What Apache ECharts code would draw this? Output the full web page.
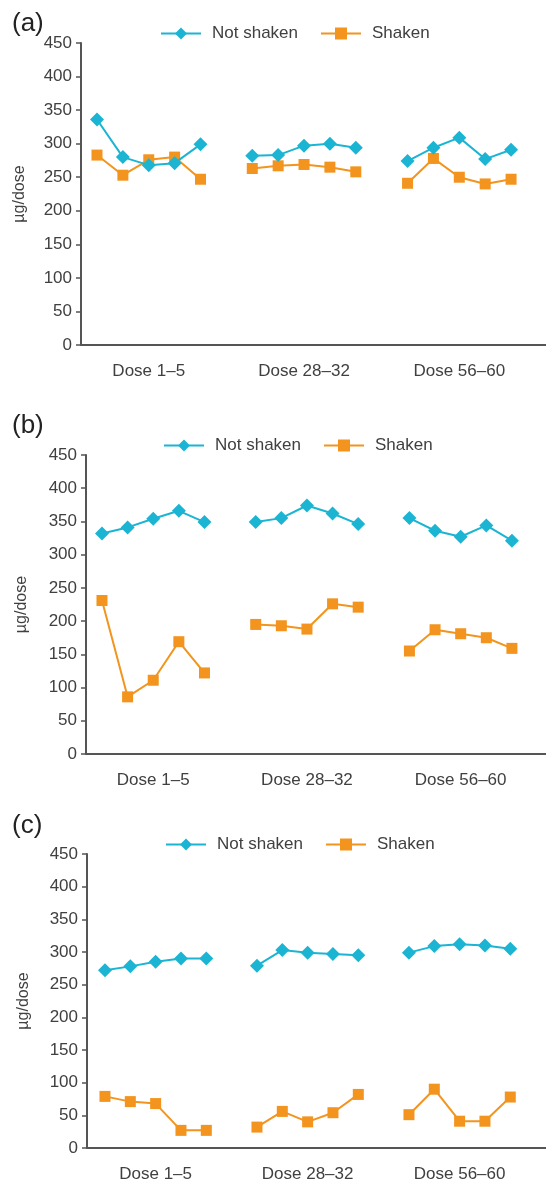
<!DOCTYPE html>
<html>
<head>
<meta charset="utf-8">
<script src="https://cdn.jsdelivr.net/npm/echarts@6/dist/echarts.min.js"></script>
<style>
html,body{margin:0;padding:0;background:#fff;}
#chart{width:546px;height:1183px;}
</style>
</head>
<body>
<div id="chart"></div>
<script>
const groups = ['Dose 1\u20135', 'Dose 28\u201332', 'Dose 56\u201360'];
const yTicks = [0, 50, 100, 150, 200, 250, 300, 350, 400, 450];
const panelLabels = ['(a)', '(b)', '(c)'];
const seriesNames = ['Not shaken', 'Shaken'];

// Panel (a)
const aNotShaken = [336, 280, 268, 271, 299, 282, 283, 297, 300, 294, 274, 294, 309, 277, 291];
const aShaken    = [283, 253, 276, 280, 247, 263, 267, 269, 265, 258, 241, 278, 250, 240, 247];
// Panel (b)
const bNotShaken = [332, 341, 354, 366, 349, 349, 355, 374, 362, 346, 355, 336, 327, 344, 321];
const bShaken    = [231, 86, 111, 169, 122, 195, 193, 188, 226, 221, 155, 187, 181, 175, 159];
// Panel (c)
const cNotShaken = [272, 278, 285, 290, 290, 279, 303, 299, 297, 295, 299, 309, 312, 310, 305];
const cShaken    = [79, 71, 68, 27, 27, 32, 56, 40, 54, 82, 51, 90, 41, 41, 78];

const panels = [
  {label: panelLabels[0], ns: aNotShaken, s: aShaken},
  {label: panelLabels[1], ns: bNotShaken, s: bShaken},
  {label: panelLabels[2], ns: cNotShaken, s: cShaken}
];

// layout (pixels)
const layout = [
  {left: 81, top: 43, height: 302, xmin: -0.618, xmax: 17.35, legendTop: 20, legendLeft: 155, titleTop: 6, nameGap: 53},
  {left: 86, top: 455, height: 299, xmin: -0.624, xmax: 17.33, legendTop: 432, legendLeft: 158, titleTop: 408, nameGap: 56},
  {left: 87, top: 854, height: 295, xmin: -0.71, xmax: 17.41, legendTop: 831, legendLeft: 160, titleTop: 808, nameGap: 55}
];

const CYAN = '#1bb5d3';
const ORANGE = '#f2941d';
const AXIS = '#555555';
const TEXT = '#404040';
const FONT = '"Liberation Sans", Arial, sans-serif';

const groupSize = 5;
const groupStep = 6;

function toPoints(vals) {
  const out = [];
  vals.forEach((v, i) => {
    const g = Math.floor(i / groupSize);
    const k = i % groupSize;
    if (k === 0 && g > 0) out.push([g * groupStep - 0.5, '-']);
    out.push([g * groupStep + k, v]);
  });
  return out;
}

const option = {
  animation: false,
  backgroundColor: '#ffffff',
  textStyle: {fontFamily: FONT},
  title: [], legend: [], grid: [], xAxis: [], yAxis: [], series: []
};

panels.forEach((p, idx) => {
  const L = layout[idx];
  option.title.push({
    text: p.label, left: 7, top: L.titleTop,
    textStyle: {fontFamily: FONT, fontSize: 26, fontWeight: 'normal', color: '#222'}
  });
  option.legend.push({
    top: L.legendTop, left: L.legendLeft,
    data: seriesNames,
    itemWidth: 40, itemHeight: 15, itemGap: 22,
    textStyle: {fontFamily: FONT, fontSize: 17, color: TEXT, padding: [0, 0, 0, 6]},
    selectedMode: false
  });
  option.grid.push({left: L.left, top: L.top, height: L.height, right: 0, containLabel: false});
  option.xAxis.push({
    type: 'value', gridIndex: idx, min: L.xmin, max: L.xmax,
    splitLine: {show: false},
    axisLine: {show: true, onZero: false, lineStyle: {color: AXIS, width: 2}},
    axisTick: {show: false},
    axisLabel: {
      customValues: groups.map((g, i) => i * groupStep + 2),
      formatter: (v) => groups[Math.round((v - 2) / groupStep)] || '',
      fontFamily: FONT, fontSize: 17, color: TEXT, margin: 18
    }
  });
  option.yAxis.push({
    type: 'value', gridIndex: idx, min: yTicks[0], max: yTicks[yTicks.length - 1], interval: 50,
    name: '\u00b5g/dose', nameLocation: 'middle', nameGap: L.nameGap,
    nameTextStyle: {fontFamily: FONT, fontSize: 16, color: TEXT},
    splitLine: {show: false},
    axisLine: {show: true, onZero: false, lineStyle: {color: AXIS, width: 2}},
    axisTick: {show: true, length: 5, lineStyle: {color: AXIS, width: 1.5}},
    axisLabel: {fontFamily: FONT, fontSize: 17, color: TEXT, margin: 9}
  });
  option.series.push({
    name: seriesNames[0], type: 'line', xAxisIndex: idx, yAxisIndex: idx,
    data: toPoints(p.ns), connectNulls: false,
    symbol: 'diamond', symbolSize: 14,
    lineStyle: {color: CYAN, width: 2}, itemStyle: {color: CYAN}, z: 3
  });
  option.series.push({
    name: seriesNames[1], type: 'line', xAxisIndex: idx, yAxisIndex: idx,
    data: toPoints(p.s), connectNulls: false,
    symbol: 'rect', symbolSize: 11,
    lineStyle: {color: ORANGE, width: 2}, itemStyle: {color: ORANGE}, z: 2
  });
});

const chart = echarts.init(document.getElementById('chart'), null, {renderer: 'canvas'});
chart.setOption(option);
</script>
</body>
</html>
